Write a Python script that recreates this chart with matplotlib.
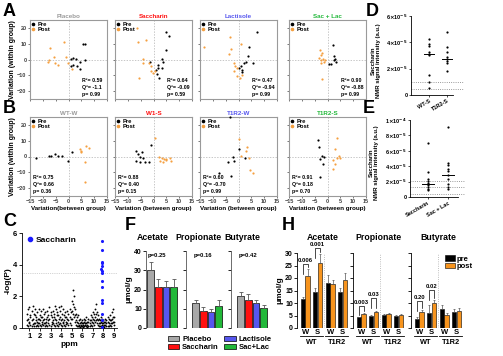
import numpy as np
import matplotlib.pyplot as plt
from matplotlib.patches import Patch
from matplotlib.lines import Line2D

plt.rcParams['font.family'] = ['Liberation Sans', 'DejaVu Sans']
plt.rcParams['font.weight'] = 'bold'
plt.rcParams['axes.labelweight'] = 'bold'
plt.rcParams['axes.linewidth'] = 0.6

ORANGE = '#f7941d'
PT_ORANGE = '#f5a040'
GREY_T = '#9a9a9a'
RED = '#ff1010'
BLUE = '#5656ee'
GREEN = '#22b83a'

# ---- A / B : PLS-DA scores (x = between group, y = within group) ----
placebo_pre = [(5.8, 10.1), (6.4, 10.1), (0.9, 0.4), (1.9, 1.1), (2.9, 0.6), (6.4, -0.6),
               (4.5, -1.7), (1.0, -3.9), (1.6, -3.2), (3.4, -4.3), (4.5, -6.0)]
placebo_post = [(-7.2, 7.1), (-1.6, 11.2), (-5.5, 1.7), (-1.1, 1.7), (-7.5, -0.4), (-8.1, -1.5),
                (-5.3, -2.1), (-4.0, -3.2), (-0.3, -2.1), (1.2, -6.0)]
saccharin_pre = [(4.9, 17.2), (6.0, 15.0), (4.7, 6.0), (3.2, 0.4), (3.6, -1.7), (-1.2, -1.5),
                 (1.7, -3.2), (1.7, -5.4), (1.0, -6.9), (3.4, -5.4), (2.3, -11.4), (1.4, -9.0)]
saccharin_post = [(-6.3, 20.0), (-6.1, 10.8), (-3.1, 12.5), (-3.9, 0.6), (-4.2, -2.1), (-1.6, -2.1),
                  (-0.9, -4.3), (-0.9, -7.5), (-0.3, -8.6), (0.4, -7.1), (-5.7, -11.4)]
lactisole_pre = [(7.1, 17.2), (4.0, 7.7), (3.8, 2.1), (2.9, -1.7), (2.3, -2.1), (5.6, -2.1),
                 (1.0, -4.3), (0.1, -5.4), (1.5, -6.5), (1.4, -8.2)]
lactisole_post = [(-13.6, 7.9), (-3.5, 14.4), (-2.8, 6.9), (-3.8, 3.2), (1.0, 9.6), (-1.8, -2.1),
                  (-1.2, -3.9), (-0.7, -5.4), (-1.6, -7.1), (-0.7, -10.3), (0.4, -11.8), (1.5, -9.7)]
saclac_pre = [(2.1, 9.0), (2.7, 2.1), (3.1, 0.6), (2.5, -0.6), (3.4, -1.7), (1.4, -2.6), (0.5, -2.8)]
saclac_post = [(-3.1, 6.0), (-2.1, 4.3), (-2.7, 2.6), (-3.4, 1.1), (-2.7, 0.0), (-1.8, 0.6),
               (-1.2, -1.5), (-2.5, -2.1), (-2.1, -12.5), (-0.8, -0.4)]

wtw_pre = [(-12.6, -0.9), (-7.5, 0.6), (-6.8, 0.2), (-5.3, 1.7), (-4.0, 0.6), (-2.6, 0.6),
           (-0.1, -3.0), (1.2, 2.8)]
wtw_post = [(4.5, 4.5), (5.0, 3.2), (4.8, 2.6), (6.8, 6.6), (8.1, 5.1), (6.4, -3.4), (6.4, -15.9)]
wts_pre = [(-7.0, 3.4), (-6.1, 1.3), (-4.4, 2.8), (-5.4, -0.4), (-4.2, -0.9), (-6.7, -3.0),
           (-5.4, -3.4), (-3.5, -3.4), (-1.6, -3.7), (-0.9, 7.3)]
wts_post = [(0.4, 11.6), (2.1, -0.4), (3.2, -0.9), (3.9, -1.3), (4.7, -1.9), (3.6, -3.4),
            (6.5, -0.9), (6.9, -2.6), (4.9, -1.5), (2.7, -2.6)]
t1w_pre = [(-3.5, 25.0), (0.0, 4.5), (-2.2, -0.2), (-1.6, -2.6), (-4.2, -3.4), (-7.7, -10.5),
           (-2.8, -12.1), (2.7, -0.9)]
t1w_post = [(0.2, 11.0), (3.5, 6.0), (0.8, 0.4), (3.0, 3.4), (4.0, -1.2), (4.3, -8.8), (5.6, -10.5)]
t1s_pre = [(-3.8, 10.3), (-3.4, 6.0), (-3.1, -1.5), (-2.1, 0.6), (-1.2, -0.2), (-1.6, -4.7), (-2.8, -12.7)]
t1s_post = [(3.6, 11.4), (3.1, 4.5), (4.4, 0.2), (3.6, -0.9), (4.7, -0.9), (2.3, -1.9),
            (3.1, -4.5), (2.1, -7.9)]

a_titles = ['Placebo', 'Saccharin', 'Lactisole', 'Sac + Lac']
b_titles = ['WT-W', 'W1-S', 'T1R2-W', 'T1R2-S']
title_colors = [GREY_T, RED, BLUE, GREEN]
a_stats = [('0.59', '-1.1', '0.99'), ('0.64', '-0.09', '0.59'),
           ('0.47', '-0.94', '0.99'), ('0.90', '-0.88', '0.99')]
b_stats = [('0.75', '0.66', '0.36'), ('0.88', '0.40', '0.15'),
           ('0.60', '-0.70', '0.99'), ('0.91', '0.18', '0.70')]

# ---- C : manhattan plot ----
ppm_bins = [0.8, 0.9, 1.0, 1.1, 1.2, 1.3, 1.4, 1.5, 1.6, 1.7, 1.8, 1.9, 2.0, 2.1, 2.2, 2.3, 2.4,
            2.5, 2.6, 2.7, 2.8, 2.9, 3.0, 3.1, 3.2, 3.3, 3.4, 3.5, 3.6, 3.7, 3.8, 3.9, 4.0, 4.1,
            4.2, 4.3, 4.4, 4.5, 4.6, 4.7, 4.8, 4.9, 5.0, 5.1, 5.2, 5.3, 5.4, 5.5, 5.6, 5.7, 5.8,
            5.9, 6.0, 6.1, 6.2, 6.3, 6.4, 6.5, 6.6, 6.7, 6.8, 6.9, 7.0, 7.1, 7.2, 7.3, 7.4, 7.5,
            7.6, 7.7, 7.8, 7.9, 8.0, 8.1, 8.2, 8.3, 8.4, 8.5, 8.6, 8.7, 8.8, 8.9, 9.0]
logp_hi = [0.9, 1.2, 1.3, 0.8, 1.1, 1.4, 0.9, 1.2, 0.7, 1.0,
           0.6, 1.2, 0.8, 1.1, 0.7, 1.2, 0.9, 1.0, 0.6, 1.1,
           0.8, 1.3, 1.0, 0.7, 1.1, 0.9, 1.4, 1.2, 1.0, 0.8,
           1.3, 1.1, 1.4, 0.9, 1.2, 0.8, 1.0, 0.7, 1.1, 0.9,
           1.2, 1.0, 1.7, 2.4, 2.0, 1.2, 0.9, 0.7, 0.8, 0.5,
           0.6, 0.4, 0.5, 0.3, 0.6, 0.5, 0.7, 0.4, 0.6, 0.5,
           0.8, 0.7, 1.0, 0.9, 1.2, 1.5, 1.0, 0.8, 0.6, 0.5,
           0.7, 0.6, 0.5, 0.4, 0.6, 0.5, 0.7, 0.6, 0.8, 0.5,
           1.0, 1.2, 0.7]
logp_mid = [0.5, 0.6, 0.4, 0.7, 0.5, 0.6, 0.3, 0.8, 0.5, 0.4,
            0.3, 0.6, 0.5, 0.7, 0.4, 0.5, 0.6, 0.3, 0.4, 0.7,
            0.5, 0.6, 0.8, 0.4, 0.5, 0.7, 0.6, 0.5, 0.8, 0.4,
            0.6, 0.7, 0.5, 0.6, 0.4, 0.5, 0.7, 0.4, 0.6, 0.5,
            0.7, 0.6, 1.1, 1.5, 1.3, 0.8, 0.5, 0.4, 0.3, 0.2,
            0.3, 0.2, 0.3, 0.2, 0.4, 0.3, 0.3, 0.2, 0.4, 0.3,
            0.5, 0.4, 0.6, 0.5, 0.7, 0.9, 0.6, 0.5, 0.3, 0.3,
            0.4, 0.3, 0.3, 0.2, 0.4, 0.3, 0.4, 0.3, 0.5, 0.3,
            0.6, 0.7, 0.4]
logp_lo = [0.2, 0.1, 0.3, 0.2, 0.1, 0.25, 0.15, 0.3, 0.1, 0.2,
           0.15, 0.3, 0.2, 0.1, 0.25, 0.2, 0.3, 0.15, 0.2, 0.1,
           0.3, 0.2, 0.1, 0.25, 0.3, 0.2, 0.15, 0.3, 0.2, 0.1,
           0.25, 0.3, 0.2, 0.15, 0.3, 0.2, 0.1, 0.25, 0.3, 0.2,
           0.3, 0.2, 0.6, 0.9, 0.7, 0.4, 0.2, 0.1, 0.15, 0.1,
           0.05, 0.1, 0.15, 0.05, 0.1, 0.2, 0.1, 0.05, 0.15, 0.1,
           0.2, 0.1, 0.3, 0.2, 0.4, 0.5, 0.3, 0.2, 0.1, 0.15,
           0.1, 0.2, 0.1, 0.05, 0.2, 0.1, 0.15, 0.1, 0.2, 0.1,
           0.3, 0.4, 0.2]
sacc_ppm = [7.85, 7.86, 7.84, 7.87, 7.85, 7.83, 7.86, 7.84, 7.86, 7.85, 7.84, 7.86, 7.85, 7.84, 7.85]
sacc_logp = [5.5, 4.9, 4.2, 4.1, 3.9, 3.75, 3.6, 3.5, 3.0, 2.6, 1.8, 1.55, 0.9, 0.5, 0.05]

# ---- D / E : saccharin NMR signal ----
d_groups = ['WT-S', 'T1R2-S']
d_wt_s = [4.25e-5, 3.9e-5, 3.7e-5, 3.3e-5, 3.1e-5, 3.0e-5, 1.55e-5, 1.0e-5, 0.5e-5]
d_t1r2_s = [4.75e-5, 3.65e-5, 3.25e-5, 2.9e-5, 2.7e-5, 2.55e-5, 2.4e-5, 1.85e-5]
d_centre = [3.1e-5, 2.75e-5]
d_thresholds = [1.0e-5, 0.45e-5]
e_groups = ['Saccharin', 'Sac + Lac']
e_sacc = [7.0e-5, 3.3e-5, 2.4e-5, 2.1e-5, 1.8e-5, 1.5e-5, 1.3e-5, 1.05e-5, 0.9e-5]
e_saclac = [9.1e-5, 4.4e-5, 4.1e-5, 3.6e-5, 3.4e-5, 2.8e-5, 2.3e-5, 1.7e-5, 1.3e-5, 1.05e-5]
e_centre = [1.7e-5, 2.8e-5]
e_thresholds = [2.1e-5, 1.25e-5, 0.4e-5]

# ---- F : SCFA in humans ----
f_groups = ['Placebo', 'Saccharin', 'Lactisole', 'Sac+Lac']
f_colors = ['#a8a8a8', RED, BLUE, GREEN]
f_acetate = [30.0, 21.5, 21.5, 21.5]
f_acetate_err = [4.3, 4.2, 2.9, 4.0]
f_propionate = [13.0, 9.0, 8.3, 11.2]
f_propionate_err = [1.5, 2.0, 1.5, 3.1]
f_butyrate = [16.6, 14.3, 12.8, 10.4]
f_butyrate_err = [2.2, 3.2, 1.7, 1.6]
f_pvals = ['p=0.25', 'p=0.16', 'p=0.42']

# ---- H : SCFA in mice (WT-W, WT-S, T1R2-W, T1R2-S) ----
h_ticks = ['W', 'S', 'W', 'S']
h_acetate_pre = [11.6, 14.6, 18.0, 14.6]
h_acetate_pre_err = [0.8, 1.6, 3.3, 1.3]
h_acetate_post = [21.0, 26.2, 17.6, 19.3]
h_acetate_post_err = [2.6, 3.5, 1.7, 2.7]
h_propionate_pre = [4.3, 4.9, 5.3, 4.9]
h_propionate_pre_err = [0.3, 0.4, 0.4, 0.3]
h_propionate_post = [5.7, 6.5, 5.7, 5.3]
h_propionate_post_err = [0.5, 0.5, 0.4, 0.4]
h_butyrate_pre = [3.7, 6.2, 7.5, 6.5]
h_butyrate_pre_err = [0.6, 3.1, 1.8, 1.1]
h_butyrate_post = [6.5, 9.9, 5.3, 6.9]
h_butyrate_post_err = [0.9, 1.4, 0.9, 1.0]
h_brackets = [[('0.006', 25.7), ('0.001', 32.0)],
              [('0.003', 9.0), ('0.03', 12.2)],
              [('0.20', 11.0), ('0.02', 15.3)]]

W, H = 503, 356
fig = plt.figure(figsize=(W / 100, H / 100), dpi=100)


def add_ax(left, top, right, bottom):
    return fig.add_axes([left / W, 1 - bottom / H, (right - left) / W, (bottom - top) / H])


def score_panel(ax, pre, post, title, color, stats, first_col, bottom_row):
    ax.scatter(*zip(*pre), s=2.5, c='black', lw=0, zorder=3, clip_on=False)
    ax.scatter(*zip(*post), s=2.5, c=PT_ORANGE, lw=0, zorder=3)
    ax.axvline(0, color='#b0b0b0', lw=0.5, ls=(0, (2, 2)))
    ax.axhline(0, color='#b0b0b0', lw=0.5, ls=(0, (2, 2)))
    ax.set_xlim(-15, 15)
    ax.set_ylim(-25, 25)
    ax.set_xticks([-15, -10, -5, 0, 5, 10, 15])
    ax.set_yticks([-20, -10, 0, 10, 20])
    for s in ax.spines.values():
        s.set_color('#9a9a9a')
        s.set_linewidth(0.8)
    ax.tick_params(labelsize=4, length=1.5, width=0.5, pad=1, colors='#444444')
    if not first_col:
        ax.set_yticklabels([])
    if not bottom_row:
        ax.set_xticklabels([])
    ax.set_title(title, color=color, fontsize=4.5, fontweight='bold', pad=1.5)
    txt = 'R\u00b2= %s\nQ\u00b2= %s\np= %s' % stats
    tx = 0.04 if bottom_row else 0.67
    ax.text(tx, 0.03, txt, transform=ax.transAxes, fontsize=3.8, va='bottom',
            ha='left', linespacing=1.4)
    handles = [Line2D([], [], marker='o', ms=1.6, ls='', color='black'),
               Line2D([], [], marker='o', ms=1.6, ls='', color=PT_ORANGE)]
    ax.legend(handles, ['Pre', 'Post'], loc='upper left', fontsize=4.2, frameon=False,
              handlelength=0.5, handletextpad=0.5, borderaxespad=0.1, labelspacing=0.05,
              borderpad=0.2)


lefts = [30, 115, 200, 289]
a_data = [(placebo_pre, placebo_post), (saccharin_pre, saccharin_post),
          (lactisole_pre, lactisole_post), (saclac_pre, saclac_post)]
b_data = [(wtw_pre, wtw_post), (wts_pre, wts_post), (t1w_pre, t1w_post), (t1s_pre, t1s_post)]
for i, l in enumerate(lefts):
    ax = add_ax(l, 20, l + 77, 99)
    score_panel(ax, a_data[i][0], a_data[i][1], a_titles[i], title_colors[i], a_stats[i], i == 0, False)
    if i == 0:
        ax.set_ylabel('Variation (within group)', fontsize=5, labelpad=1)
    ax = add_ax(l, 117, l + 77, 196)
    score_panel(ax, b_data[i][0], b_data[i][1], b_titles[i], title_colors[i], b_stats[i], i == 0, True)
    ax.set_xlabel('Variation(between group)' if i == 0 else 'Variation (between group)',
                  fontsize=4.5, labelpad=1)
    if i == 0:
        ax.set_ylabel('Variation (within group)', fontsize=5, labelpad=1)

# ---- C ----
ax = add_ax(22, 233, 117, 328)
for ys in (logp_lo, logp_mid, logp_hi):
    ax.scatter(ppm_bins, ys, s=1.8, c='black', lw=0, clip_on=False)
ax.scatter(sacc_ppm, sacc_logp, s=5, c='#1a1aff', lw=0, clip_on=False, zorder=3)
ax.axhline(3.5, color='#aaaaaa', lw=0.5, ls=':')
ax.set_xlim(0.3, 9.3)
ax.set_ylim(0, 6)
ax.set_xticks([1, 2, 3, 4, 5, 6, 7, 8, 9])
ax.set_yticks([0, 2, 4, 6])
ax.spines[['top', 'right']].set_visible(False)
ax.tick_params(labelsize=5.5, length=2, width=0.6, pad=1.5)
ax.set_xlabel('ppm', fontsize=6, labelpad=1)
ax.set_ylabel('-log(P)', fontsize=6, labelpad=1)
ax.legend([Line2D([], [], marker='o', ms=3, ls='', color='#1a1aff')], ['Saccharin'],
          loc='upper left', fontsize=6, frameon=False, handlelength=0.6, handletextpad=0.4,
          borderaxespad=0.2, bbox_to_anchor=(0.0, 1.02))


# ---- D / E ----
def dot_panel(ax, series, centres, thresholds, labels, ymax, ticks, ticklabels, xr):
    for i, vals in enumerate(series):
        ax.scatter([i + 1] * len(vals), vals, s=2.5, c='black', lw=0, zorder=3)
        ax.plot([i + 1 - 0.3, i + 1 + 0.3], [centres[i], centres[i]], color='black', lw=0.7)
    for t in thresholds:
        ax.plot([xr[0], xr[2]], [t, t], color='#777777', lw=0.6, ls=':', clip_on=False)
    ax.set_xlim(xr[0], xr[1])
    ax.set_ylim(0, ymax)
    ax.set_yticks(ticks)
    ax.set_yticklabels(ticklabels)
    ax.set_xticks([1, 2])
    ax.set_xticklabels(labels, rotation=30, ha='right', rotation_mode='anchor')
    ax.spines[['top', 'right']].set_visible(False)
    ax.tick_params(labelsize=4, length=1.5, width=0.5, pad=1)
    ax.set_ylabel('Saccharin\nNMR signal intensity (a.u.)', fontsize=4.3, labelpad=1,
                  linespacing=1.1)
    ax.yaxis.set_label_coords(-0.72, 0.43)


ax = add_ax(411, 16, 453, 95)
dot_panel(ax, [d_wt_s, d_t1r2_s], d_centre, d_thresholds, d_groups, 6e-5,
          [0, 2e-5, 4e-5, 6e-5],
          ['0', r'2$\times$10$^{-5}$', r'4$\times$10$^{-5}$', r'6$\times$10$^{-5}$'], (0, 2.33, 2.9))
ax = add_ax(410, 120, 458, 197)
dot_panel(ax, [e_sacc, e_saclac], e_centre, e_thresholds, e_groups, 1e-4,
          [0, 2e-5, 4e-5, 6e-5, 8e-5, 1e-4],
          ['0', r'2$\times$10$^{-5}$', r'4$\times$10$^{-5}$', r'6$\times$10$^{-5}$',
           r'8$\times$10$^{-5}$', r'1$\times$10$^{-4}$'], (0.1, 2.5, 2.85))
ax.yaxis.set_label_coords(-0.64, 0.45)

# ---- F ----
f_vals = [(f_acetate, f_acetate_err), (f_propionate, f_propionate_err), (f_butyrate, f_butyrate_err)]
f_axes = [(146, -0.6), (186, -1.25), (231, -1.25)]
for k, (left, x0) in enumerate(f_axes):
    right = left + (3.5 - x0) * 7.7
    ax = add_ax(left, 251, right, 328)
    vals, errs = f_vals[k]
    ax.bar(range(4), vals, width=0.85, color=f_colors, edgecolor='black', lw=0.5,
           yerr=[[0] * 4, errs], error_kw=dict(lw=0.6, capsize=1.2, capthick=0.6, ecolor='#555555'))
    ax.set_xlim(x0, 3.5)
    ax.set_ylim(0, 40)
    ax.set_yticks([0, 10, 20, 30, 40])
    ax.set_xticks([])
    ax.spines[['top', 'right', 'bottom']].set_visible(False)
    ax.spines['left'].set_color('#555555')
    ax.tick_params(labelsize=5, length=2, width=0.6, pad=1)
    if k == 0:
        ax.set_ylabel('\u03bcmol/g', fontsize=6, labelpad=1)
    else:
        ax.set_yticklabels([])
    ax.text(0.05 if k == 0 else 0.2, 0.97, f_pvals[k], transform=ax.transAxes,
            fontsize=4.2, va='top', ha='left')
for t, xc in zip(['Acetate', 'Propionate', 'Butyrate'], [153, 198, 242]):
    fig.text(xc / W, 1 - 237 / H, t, fontsize=6.3, ha='center', va='center')
fig.legend([Patch(fc=c, ec='black', lw=0.5) for c in f_colors], f_groups, ncol=2,
           loc='upper left', bbox_to_anchor=(163 / W, 1 - 331 / H), fontsize=5.5,
           frameon=False, handlelength=1.5, handleheight=0.8, columnspacing=0.7,
           labelspacing=0.05, handletextpad=0.4, borderpad=0.1)

# ---- H ----
h_vals = [(h_acetate_pre, h_acetate_pre_err, h_acetate_post, h_acetate_post_err),
          (h_propionate_pre, h_propionate_pre_err, h_propionate_post, h_propionate_post_err),
          (h_butyrate_pre, h_butyrate_pre_err, h_butyrate_post, h_butyrate_post_err)]
h_lefts = [297, 353, 411]
for k, left in enumerate(h_lefts):
    ax = add_ax(left, 253, left + 52, 328)
    pre, pre_e, post, post_e = h_vals[k]
    x = np.arange(4)
    ek = dict(lw=0.5, capsize=1, capthick=0.5, ecolor='#555555')
    ax.bar(x - 0.19, pre, width=0.34, color='black', edgecolor='black', lw=0.4,
           yerr=[[0] * 4, pre_e], error_kw=ek, label='pre')
    ax.bar(x + 0.19, post, width=0.34, color=ORANGE, edgecolor='black', lw=0.4,
           yerr=[[0] * 4, post_e], error_kw=ek, label='post')
    ax.axvline(1.5, color='#aaaaaa', lw=0.6, ls=':')
    ax.set_xlim(-0.65, 3.5)
    ax.set_ylim(0, 30)
    ax.set_yticks([0, 5, 10, 15, 20, 25, 30])
    ax.set_xticks(x)
    ax.set_xticklabels(h_ticks)
    ax.spines[['top', 'right', 'bottom']].set_visible(False)
    ax.tick_params(axis='y', labelsize=5, length=2, width=0.6, pad=1)
    ax.tick_params(axis='x', labelsize=5.5, length=0, pad=0.8)
    if k == 0:
        ax.set_ylabel('\u03bcmol/g', fontsize=6, labelpad=1)
    else:
        ax.set_yticklabels([])
    tr = ax.get_xaxis_transform()
    for g0, name in ((0, 'WT'), (2, 'T1R2')):
        ax.plot([g0 - 0.4, g0 + 1.4], [-0.11, -0.11], color='black', lw=0.6,
                transform=tr, clip_on=False)
        ax.text(g0 + 0.5, -0.15, name, transform=tr, fontsize=5.3, ha='center', va='top')
    for g, (lab, yb) in enumerate(h_brackets[k]):
        y0 = max(pre[g] + pre_e[g] + 0.8, yb - 4)
        y1 = max(post[g] + post_e[g] + 0.8, yb - 4)
        ax.plot([g - 0.19, g - 0.19, g + 0.19, g + 0.19], [y0, yb, yb, y1],
                color='black', lw=0.5, clip_on=False)
        ax.text(g, yb + 0.3, lab, fontsize=4.2, ha='center', va='bottom', clip_on=False)
    if k == 2:
        ax.legend(loc='upper left', bbox_to_anchor=(0.56, 1.03), fontsize=5.5, frameon=False,
                  handlelength=1.3, handleheight=0.7, handletextpad=0.3, labelspacing=0.05,
                  borderpad=0.1)
for t, xc in zip(['Acetate', 'Propionate', 'Butyrate'], [323, 378, 438]):
    fig.text(xc / W, 1 - 237 / H, t, fontsize=6.3, ha='center', va='center')

# ---- panel letters ----
for lab, x, y in [('A', 3, 12), ('B', 3, 108), ('C', 3, 222), ('D', 366, 12), ('E', 363, 108),
                  ('F', 125, 225), ('H', 282, 225)]:
    fig.text(x / W, 1 - y / H, lab, fontsize=13, fontweight='bold', ha='left', va='center')

fig.savefig('out.png', dpi=100)
